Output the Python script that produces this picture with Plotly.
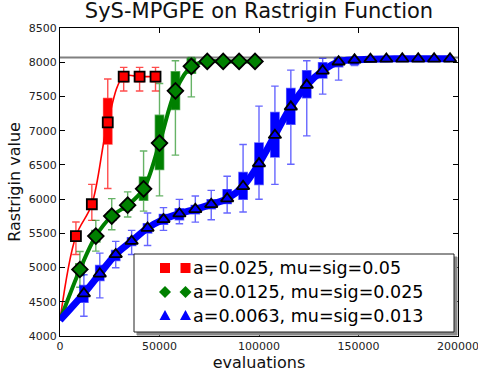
import plotly.graph_objects as go

# ---- data: evaluations and Rastrigin value statistics per configuration ----
START_VALUE = 4230          # value of the initial population (evaluation 0)
OPTIMUM_LEVEL = 8068        # reference level drawn as a horizontal line

RED_EVALS = [8000, 16000, 24000, 32000, 40000, 48000]
RED_MED = [5460, 5925, 7120, 7790, 7790, 7790]
RED_Q1 = [5400, 5860, 6805, 7715, 7715, 7715]
RED_Q3 = [5520, 5985, 7470, 7860, 7860, 7860]
RED_LO = [5190, 5690, 6155, 7580, 7580, 7580]
RED_HI = [5665, 6215, 7755, 7925, 7925, 7925]

GREEN_EVALS = [10000, 18000, 26000, 34000, 42000, 50000, 58000, 66000, 74000, 82000, 90000, 98000]
GREEN_MED = [4972, 5460, 5752, 5912, 6150, 6818, 7582, 7940, 8012, 8012, 8012, 8012]
GREEN_Q1 = [4885, 5372, 5690, 5836, 5983, 6432, 7310, 7838, 8000, 8000, 8000, 8000]
GREEN_Q3 = [5055, 5543, 5811, 5957, 6324, 7227, 7860, 8055, 8025, 8025, 8025, 8025]
GREEN_LO = [4712, 5240, 5553, 5738, 5825, 6047, 6642, 7494, 7990, 7990, 7990, 7990]
GREEN_HI = [5235, 5690, 6007, 6105, 6704, 7690, 8022, 8068, 8035, 8035, 8035, 8035]

BLUE_EVALS = [12000, 20000, 28000, 36000, 44000, 52000, 60000, 68000, 76000, 84000, 92000, 100000,
              108000, 116000, 124000, 132000, 140000, 148000, 156000, 164000, 172000, 180000,
              188000, 196000]
BLUE_MED = [4620, 4909, 5192, 5386, 5577, 5704, 5787, 5851, 5924, 6007, 6187, 6519,
            6934, 7348, 7666, 7875, 8007, 8035, 8045, 8048, 8050, 8050, 8050, 8050]
BLUE_Q1 = [4493, 4811, 5104, 5323, 5504, 5631, 5699, 5787, 5860, 5934, 5997, 6212,
           6616, 7094, 7482, 7770, 7934, 7965, 8025, 8030, 8035, 8035, 8035, 8035]
BLUE_Q3 = [4738, 5030, 5250, 5436, 5641, 5777, 5860, 5909, 5992, 6139, 6388, 6821,
           7266, 7617, 7875, 7992, 8060, 8050, 8058, 8060, 8060, 8060, 8060, 8060]
BLUE_LO = [4288, 4557, 4997, 5191, 5323, 5543, 5641, 5664, 5699, 5796, 5811, 5997,
           6216, 6509, 6924, 7534, 7739, 7950, 8015, 8020, 8025, 8025, 8025, 8025]
BLUE_HI = [4894, 5211, 5382, 5543, 5796, 5875, 5996, 6045, 6128, 6333, 6797, 7358,
           7651, 7885, 8022, 8056, 8071, 8068, 8065, 8065, 8065, 8065, 8065, 8065]

LEGEND_LABELS = ["a=0.025, mu=sig=0.05", "a=0.0125, mu=sig=0.025", "a=0.0063, mu=sig=0.013"]

X_TICKS = [0, 50000, 100000, 150000, 200000]
Y_TICKS = [4000, 4500, 5000, 5500, 6000, 6500, 7000, 7500, 8000, 8500]

# ---- figure geometry ----
W, H = 478, 374
ML, MR, MT, MB = 60, 20, 28, 38
PW, PH = W - ML - MR, H - MT - MB
FONT = "DejaVu Sans"

series = [
    dict(ev=RED_EVALS, med=RED_MED, q1=RED_Q1, q3=RED_Q3, lo=RED_LO, hi=RED_HI,
         color="#ff0000", whisker="rgba(255,0,0,0.7)", lw=1.6, sym="square", size=10),
    dict(ev=GREEN_EVALS, med=GREEN_MED, q1=GREEN_Q1, q3=GREEN_Q3, lo=GREEN_LO, hi=GREEN_HI,
         color="#008000", whisker="rgba(0,128,0,0.6)", lw=4, sym="diamond", size=12),
    dict(ev=BLUE_EVALS, med=BLUE_MED, q1=BLUE_Q1, q3=BLUE_Q3, lo=BLUE_LO, hi=BLUE_HI,
         color="#0000ff", whisker="rgba(0,0,255,0.6)", lw=7, sym="triangle-up", size=11),
]

fig = go.Figure()

# box-and-whisker summaries
for s in series:
    fig.add_trace(go.Box(
        x=s["ev"], q1=s["q1"], median=s["med"], q3=s["q3"],
        lowerfence=s["lo"], upperfence=s["hi"],
        width=4200, whiskerwidth=0.9, boxpoints=False,
        fillcolor=s["color"], line=dict(color=s["whisker"], width=1.4),
        showlegend=False, hoverinfo="skip",
    ))

# smoothed median curves starting from the initial population
for s in series:
    fig.add_trace(go.Scatter(
        x=[0] + s["ev"], y=[START_VALUE] + s["med"], mode="lines",
        line=dict(color=s["color"], width=s["lw"], shape="spline", smoothing=1.0),
        showlegend=False, hoverinfo="skip",
    ))

# median markers
for s in series:
    fig.add_trace(go.Scatter(
        x=s["ev"], y=s["med"], mode="markers",
        marker=dict(symbol=s["sym"], size=s["size"], color=s["color"],
                    line=dict(color="black", width=1.8)),
        showlegend=False, hoverinfo="skip",
    ))


def paper(px, py):
    return (px - ML) / PW, (H - MB - py) / PH


shapes = [
    dict(type="line", xref="paper", yref="y", x0=0, x1=1, y0=OPTIMUM_LEVEL, y1=OPTIMUM_LEVEL,
         line=dict(color="#808080", width=2), layer="below"),
]

# legend frame with drop shadow
lx0, ly0, lx1, ly1 = 134, 254, 454, 332
for (dx, fill, edge) in [(3, "#8a8a8a", "#8a8a8a"), (0, "white", "#222222")]:
    a0 = paper(lx0 + dx, ly1 + dx)
    a1 = paper(lx1 + dx, ly0 + dx)
    shapes.append(dict(type="rect", xref="paper", yref="paper",
                       x0=a0[0], y0=a0[1], x1=a1[0], y1=a1[1],
                       fillcolor=fill, line=dict(color=edge, width=1), layer="above"))


def glyph_path(kind, cx, cy):
    if kind == "square":
        pts = [(cx - 5, cy - 5), (cx + 5, cy - 5), (cx + 5, cy + 5), (cx - 5, cy + 5)]
    elif kind == "diamond":
        pts = [(cx, cy - 6), (cx + 6, cy), (cx, cy + 6), (cx - 6, cy)]
    else:
        pts = [(cx, cy - 5.5), (cx + 5.5, cy + 4.5), (cx - 5.5, cy + 4.5)]
    pp = [paper(x, y) for x, y in pts]
    return "M " + " L ".join(f"{x:.5f},{y:.5f}" for x, y in pp) + " Z"


rows = [268, 292, 315.5]
annotations = []
for s, label, ry in zip(series, LEGEND_LABELS, rows):
    for gx in (165, 185.5):
        shapes.append(dict(type="path", xref="paper", yref="paper",
                           path=glyph_path(s["sym"].split("-")[0], gx, ry),
                           fillcolor=s["color"], line=dict(width=0), layer="above"))
    tx, ty = paper(191, ry)
    annotations.append(dict(x=tx, y=ty, xref="paper", yref="paper", text=label,
                            showarrow=False, xanchor="left", yanchor="middle",
                            font=dict(family=FONT, size=17.5, color="black")))

axis_common = dict(
    showline=True, linecolor="black", linewidth=1, mirror="ticks",
    ticks="inside", ticklen=5, tickcolor="black", showgrid=False, zeroline=False,
    automargin=False, ticklabeloverflow="allow",
    tickfont=dict(family=FONT, size=11, color="#222222"),
)

fig.update_layout(
    width=W, height=H, margin=dict(l=ML, r=MR, t=MT, b=MB, pad=0, autoexpand=False),
    paper_bgcolor="white", plot_bgcolor="white",
    boxmode="overlay", showlegend=False,
    title=dict(text="SyS-MPGPE on Rastrigin Function", x=(ML + PW / 2) / W, xanchor="center",
               y=1 - 11 / H, yanchor="middle", yref="container", automargin=False,
               font=dict(family=FONT, size=21, color="#111111")),
    xaxis=dict(range=[0, 200000], tickvals=X_TICKS, ticktext=[str(v) for v in X_TICKS],
               title=dict(text="evaluations", standoff=4,
                          font=dict(family=FONT, size=16, color="#111111")),
               **axis_common),
    yaxis=dict(range=[4000, 8500], tickvals=Y_TICKS, ticktext=[str(v) for v in Y_TICKS],
               title=dict(text="Rastrigin value", standoff=4,
                          font=dict(family=FONT, size=16, color="#111111")),
               **axis_common),
    shapes=shapes, annotations=annotations,
)

fig.write_html("out.html")
